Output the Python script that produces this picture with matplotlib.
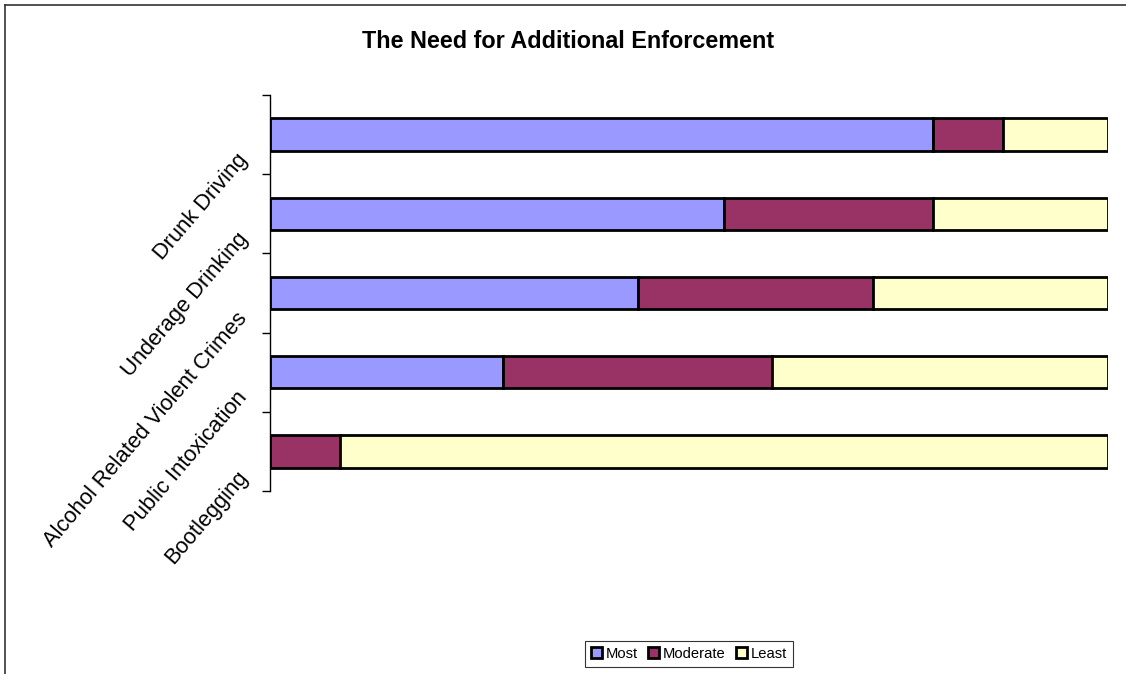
import matplotlib.pyplot as plt
import matplotlib.transforms as mtransforms
from matplotlib.lines import Line2D
import numpy as np

plt.rcParams['font.family'] = ['Liberation Sans', 'DejaVu Sans']

# share of responses (percent) per issue
categories = ["Drunk Driving", "Underage Drinking", "Alcohol Related Violent Crimes",
              "Public Intoxication", "Bootlegging"]
most = [79.1, 54.2, 43.9, 27.8, 0.0]
moderate = [8.4, 24.9, 28.0, 32.1, 8.4]
least = [12.5, 20.9, 28.1, 40.1, 91.6]

series = [("Most", most, "#9999FF"),
          ("Moderate", moderate, "#993366"),
          ("Least", least, "#FFFFCC")]

fig = plt.figure(figsize=(11.26, 6.74), dpi=100)
ax = fig.add_axes([270 / 1126, 1 - 491 / 674, 838 / 1126, 396 / 674])

y = np.arange(len(categories))
left = np.zeros(len(categories))
for name, vals, col in series:
    vals = np.array(vals)
    ax.barh(y, vals, left=left, height=0.41, color=col, edgecolor="black",
            linewidth=2, label=name)
    left += vals

ax.set_xlim(0, 100)
ax.set_ylim(len(categories) - 0.5, -0.5)
ax.set_xticks([])
ax.set_yticks(np.arange(len(categories) + 1) - 0.5)
ax.set_yticklabels([])
ax.tick_params(axis="y", length=6, width=1, color="black")
for s in ["top", "right", "bottom"]:
    ax.spines[s].set_visible(False)
ax.spines["left"].set_linewidth(1)
ax.spines["left"].set_color("black")

# Excel-style rotated category labels, shifted below their bars
trans = mtransforms.blended_transform_factory(ax.transAxes, ax.transData)
trans = mtransforms.offset_copy(trans, fig=fig, x=-26, y=-22, units="dots")
for yi, lab in zip(y, categories):
    ax.text(0, yi, lab, transform=trans, rotation=49.5, rotation_mode="anchor",
            ha="right", va="center", fontsize=15.8)

fig.text(568 / 1126, 1 - 42 / 674, "The Need for Additional Enforcement",
         ha="center", va="center", fontsize=16.8, fontweight="bold")

leg = ax.legend(loc="center", bbox_to_anchor=(689 / 1126, 1 - 654 / 674),
                bbox_transform=fig.transFigure, ncol=3, frameon=True,
                fancybox=False, edgecolor="black", fontsize=10.6,
                handlelength=0.75, handleheight=0.75, handletextpad=0.25,
                columnspacing=0.7, borderpad=0.4, borderaxespad=0)
leg.get_frame().set_linewidth(0.8)
for h in leg.legend_handles:
    h.set_linewidth(2)

# chart area border
fig.add_artist(Line2D([5 / 1126, 5 / 1126], [0, 1 - 5 / 674], color="#333333",
                      linewidth=1.2, transform=fig.transFigure))
fig.add_artist(Line2D([5 / 1126, 1], [1 - 5 / 674, 1 - 5 / 674], color="#333333",
                      linewidth=1.2, transform=fig.transFigure))

fig.savefig("out.png", dpi=100)
